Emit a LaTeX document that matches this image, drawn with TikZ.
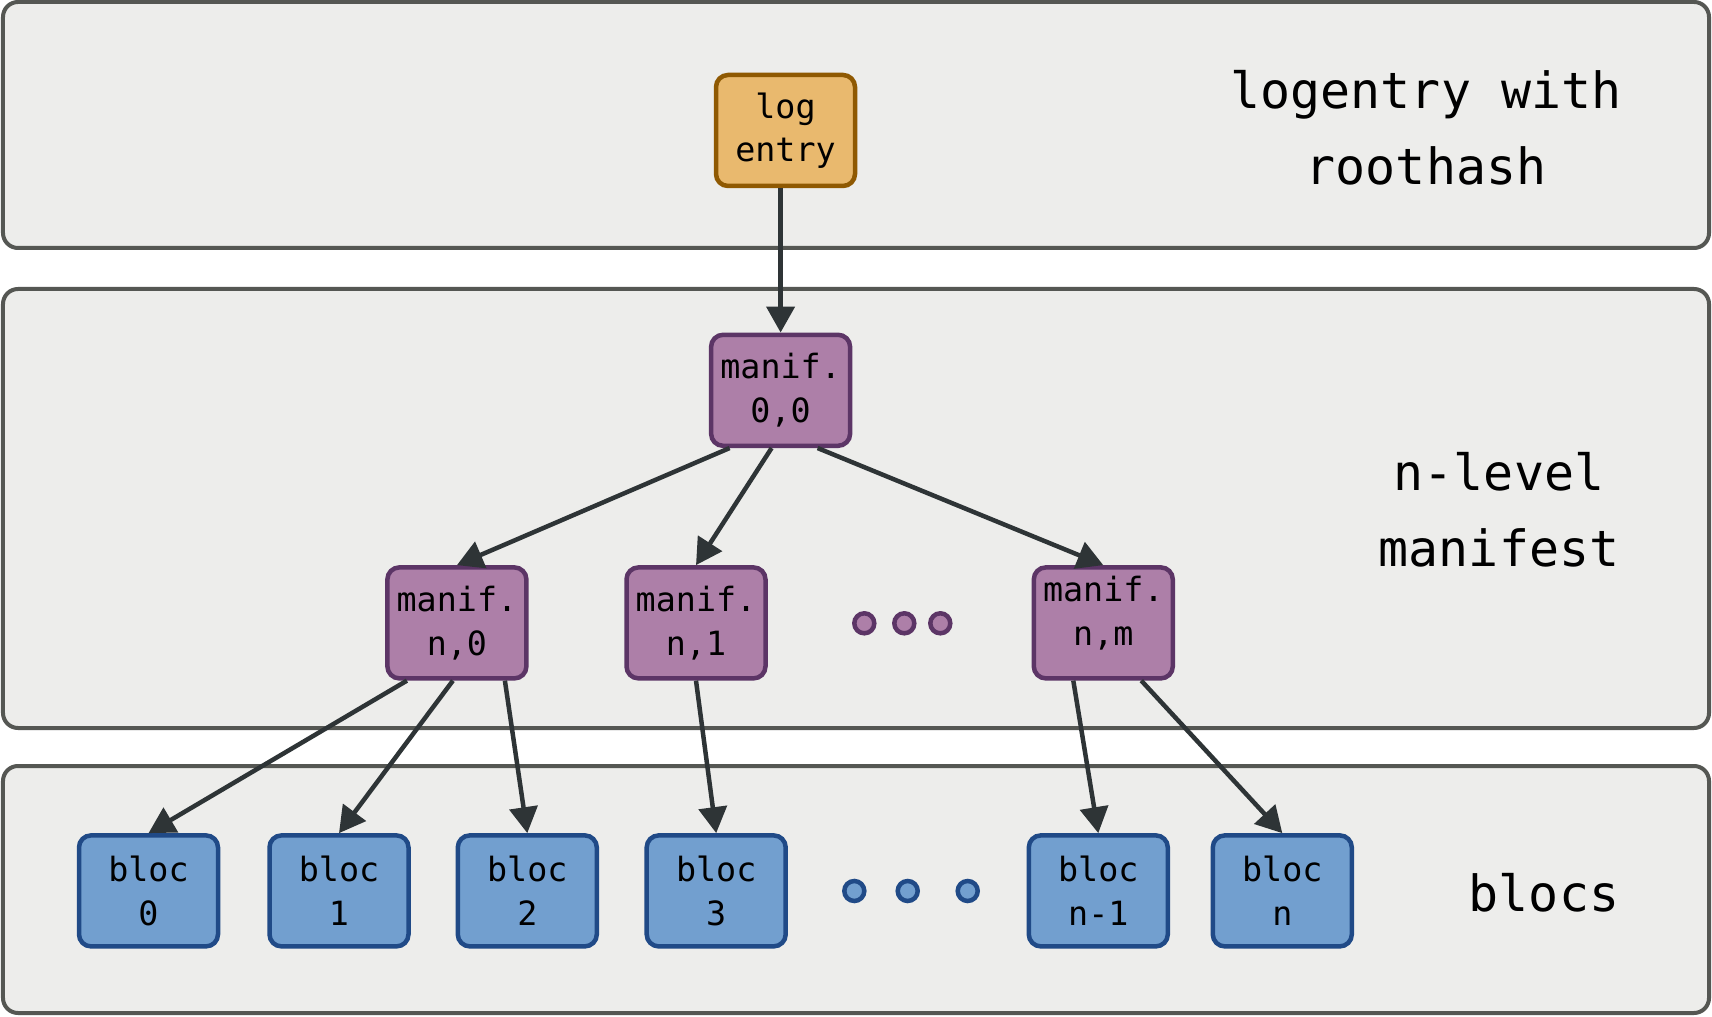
\documentclass[tikz,border=0pt]{standalone}
\usepackage{fontspec}
\setmonofont{DejaVu Sans Mono}
\usepackage{tikz}
\usetikzlibrary{arrows.meta,positioning}

\definecolor{panelfill}{HTML}{EDEDEB}
\definecolor{paneldraw}{HTML}{555753}
\definecolor{orangefill}{HTML}{E9B96E}
\definecolor{orangedraw}{HTML}{8F5902}
\definecolor{plumfill}{HTML}{AD7FA8}
\definecolor{plumdraw}{HTML}{5C3566}
\definecolor{bluefill}{HTML}{729FCF}
\definecolor{bluedraw}{HTML}{204A87}
\definecolor{arrowgray}{HTML}{2E3436}

\begin{document}
\begin{tikzpicture}[
  panel/.style={fill=panelfill,draw=paneldraw,line width=0.4mm,rounded corners=1.5mm},
  box/.style={line width=0.45mm,rounded corners=1.2mm,minimum width=13.9mm,minimum height=11.1mm,
    align=center,inner sep=0pt,font=\ttfamily\fontsize{9.5}{12.4}\selectfont},
  logbox/.style={box,fill=orangefill,draw=orangedraw},
  manbox/.style={box,fill=plumfill,draw=plumdraw},
  blocbox/.style={box,fill=bluefill,draw=bluedraw},
  side/.style={align=center,font=\ttfamily\fontsize{14.2}{21.6}\selectfont},
  link/.style={draw=arrowgray,line width=0.45mm,-{Triangle[length=2.6mm,width=2.8mm]}},
  mandot/.style={fill=plumfill,draw=plumdraw,line width=0.45mm},
  blocdot/.style={fill=bluefill,draw=bluedraw,line width=0.45mm},
  ]

\fill[white] (0,0) rectangle (17.12,-10.17);
\useasboundingbox (0,0) rectangle (17.12,-10.17);

% three layers
\draw[panel] (0.03,-0.02) rectangle (17.09,-2.48);
\draw[panel] (0.03,-2.89) rectangle (17.09,-7.28);
\draw[panel] (0.03,-7.66) rectangle (17.09,-10.13);

\node[side] (toplabel) at (14.26,-1.28) {logentry with\\roothash};
\node[side] (midlabel) at (14.99,-5.10) {n-level\\manifest};
\node[side] (botlabel) at (15.44,-8.93) {blocs};

% log entry and manifests
\node[logbox] (log) at (7.855,-1.305) {log\\entry};
\node[manbox] (m00) at (7.806,-3.903) {manif.\\0,0};
\node[manbox] (n0) at (4.569,-6.229) {manif.\\n,0};
\node[manbox] (n1) at (6.960,-6.229) {manif.\\n,1};
\node[manbox,text depth=2.4mm] (nm) at (11.033,-6.229) {manif.\\n,m};

\foreach \x in {8.643,9.043,9.403}
  \draw[mandot] (\x,-6.233) circle (1mm);

% blocs
\node[blocbox] (b0) at (1.485,-8.909) {bloc\\0};
\node[blocbox] (b1) at (3.390,-8.909) {bloc\\1};
\node[blocbox] (b2) at (5.273,-8.909) {bloc\\2};
\node[blocbox] (b3) at (7.162,-8.909) {bloc\\3};
\node[blocbox] (bn1) at (10.983,-8.909) {bloc\\n-1};
\node[blocbox] (bn) at (12.823,-8.909) {bloc\\n};

\foreach \x in {8.543,9.077,9.677}
  \draw[blocdot] (\x,-8.910) circle (1mm);

% links
\draw[link] (log.south -| m00) -- (m00.north);
\draw[link] ([xshift=-5.1mm]m00.south) -- (n0.north);
\draw[link] ([xshift=-0.9mm]m00.south) -- (n1.north);
\draw[link] ([xshift=3.7mm]m00.south) -- (nm.north);
\draw[link] ([xshift=-5.0mm]n0.south) -- (b0.north);
\draw[link] ([xshift=-0.4mm]n0.south) -- (b1.north);
\draw[link] ([xshift=4.8mm]n0.south) -- (b2.north);
\draw[link] (n1.south) -- (b3.north);
\draw[link] ([xshift=-3.0mm]nm.south) -- (bn1.north);
\draw[link] ([xshift=3.8mm]nm.south) -- (bn.north);

\end{tikzpicture}
\end{document}
